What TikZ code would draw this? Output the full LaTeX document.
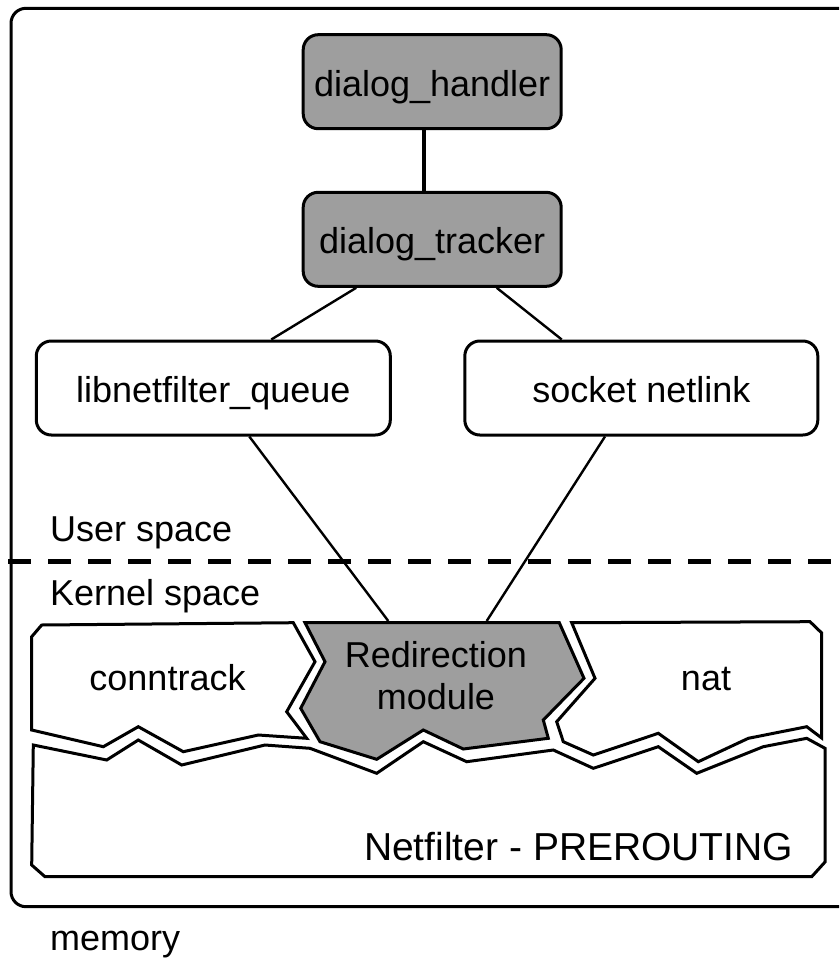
\documentclass[tikz,border=0pt]{standalone}
\usepackage{fontspec}
\setmainfont{Liberation Sans}
\definecolor{boxgray}{RGB}{158,158,158}
\begin{document}
\begin{tikzpicture}[x=1pt,y=-1pt,
  every node/.style={font=\fontsize{36}{43}\selectfont},
  modbox/.style={draw, line width=3pt, rounded corners=15pt, inner sep=0pt,
    text height=29pt, text depth=0pt, minimum height=94pt},
  graybox/.style={modbox, fill=boxgray},
  whitebox/.style={modbox, fill=white},
  conn/.style={line width=2.4pt},
  shp/.style={draw, line width=3pt, line join=miter},
  lbl/.style={inner sep=0pt, anchor=base west}]
\clip (0,0) rectangle (839,960);
% outer memory box
\draw[line width=3pt, rounded corners=15pt] (11,8.3) rectangle (860,906.7);
% user / kernel separator
\draw[line width=4.5pt, dash pattern=on 23pt off 17pt] (8,561.7) -- (845,561.7);
\node[lbl] (us) at (50,541.7) {User space};
\node[lbl] (ks) at (50,605) {Kernel space};
\node[lbl] (mem) at (50,950) {memory};
% user-space boxes
\node[graybox, minimum width=258pt] (handler) at (432.2,81.7) {dialog\_handler};
\node[graybox, minimum width=258pt] (tracker) at (432.2,239.3) {dialog\_tracker};
\node[whitebox, minimum width=354pt] (libnet) at (213.3,388) {libnetfilter\_queue};
\node[whitebox, minimum width=353pt] (socket) at (641.3,388) {socket netlink};
% kernel shapes
\draw[shp, fill=white] (33.3,745) -- (106.7,760) -- (138.3,740) -- (181.7,765) -- (265,745)
  -- (310,748.3) -- (376.7,773.3) -- (423.3,741.7) -- (466.7,761.7) -- (553.3,750)
  -- (593.3,768.3) -- (658.3,746.7) -- (696.7,773.3) -- (763.3,746.7) -- (806.7,738.3)
  -- (825,748.3) -- (825,862) -- (811.7,876.7) -- (45,876.7) -- (31.7,865) -- cycle;
\draw[shp, fill=white] (31.7,636.7) -- (41.7,625) -- (293.3,622.7) -- (315,661.7)
  -- (286.7,711.7) -- (306.7,738.3) -- (258.3,735) -- (183.3,751.7) -- (138.3,726.7)
  -- (103.3,746.7) -- (31.7,730) -- cycle;
\draw[shp, fill=boxgray] (305,622.7) -- (559.3,622.7) -- (584,678.3) -- (543.3,720)
  -- (548.3,738.3) -- (463.3,749) -- (423.3,730) -- (376.7,759.3) -- (320,741.7)
  -- (300.7,708.3) -- (325,661.7) -- cycle;
\draw[shp, fill=white] (571.7,622.7) -- (810,621.7) -- (821.7,633) -- (821.7,738)
  -- (806.7,726.7) -- (748.3,738.3) -- (698.3,761.7) -- (658.3,733.3) -- (593.3,755)
  -- (563.3,741.7) -- (556.7,721.7) -- (595,678.3) -- cycle;
\coordinate (redirL) at (388.3,621);
\coordinate (redirR) at (486.7,621);
\node[inner sep=0pt, anchor=base] (ct) at (167.5,690) {conntrack};
\node[inner sep=0pt, anchor=base] (nat) at (706,690) {nat};
\node[inner sep=0pt, anchor=base] (redir1) at (436,667.5) {Redirection};
\node[inner sep=0pt, anchor=base] (redir2) at (436,709.5) {module};
\node[inner sep=0pt, anchor=base east, font=\fontsize{39}{46}\selectfont] (nf) at (793.3,860) {Netfilter - PREROUTING};
% connectors
\draw[line width=3.5pt] ([xshift=-8pt]handler.south) -- ([xshift=-8pt]tracker.north);
\draw[conn] ([xshift=-76pt]tracker.south) -- ([xshift=58pt]libnet.north);
\draw[conn] ([xshift=64.5pt]tracker.south) -- ([xshift=-79.6pt]socket.north);
\draw[conn] ([xshift=36pt]libnet.south) -- (redirL);
\draw[conn] ([xshift=-36.3pt]socket.south) -- (redirR);
\end{tikzpicture}
\end{document}
